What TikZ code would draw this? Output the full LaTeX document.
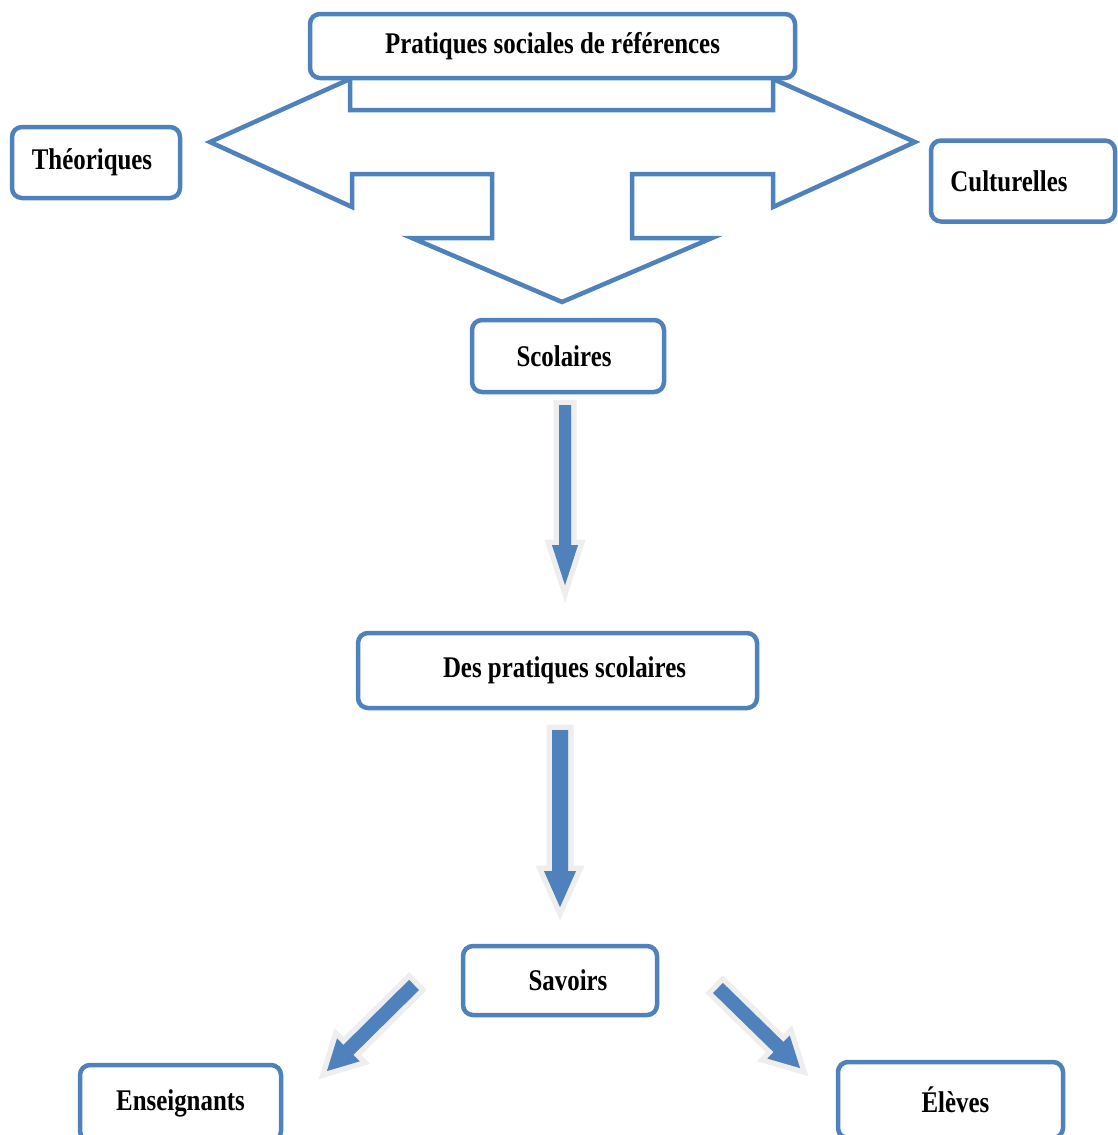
\documentclass[tikz,border=0pt]{standalone}
\usepackage{fontspec}
\setmainfont{Liberation Serif}[FakeStretch=0.83]
\usetikzlibrary{calc}
\definecolor{blueC}{HTML}{4F81BD}
\tikzset{
  box/.style={draw=blueC, line width=4.5pt, rounded corners=10pt, fill=white, inner sep=0pt, align=center,
    font=\fontsize{30}{32}\selectfont\bfseries},
  halo/.style={fill=gray!13, draw=gray!13, line width=11pt, line join=miter},
  shadowc/.style={fill=gray!55},
  bluefill/.style={fill=blueC},
}
\newcommand\blockarrow[5]{%
  \coordinate (bah) at ($(#2)!#5!(#1)$);
  \filldraw[halo] ($(#1)!#3!90:(#2)$) -- ($(bah)!#3!90:(#2)$) -- ($(bah)!#4!90:(#2)$) -- (#2) -- ($(bah)!#4!-90:(#2)$) -- ($(bah)!#3!-90:(#2)$) -- ($(#1)!#3!-90:(#2)$) -- cycle;
  \fill[shadowc, shift={(3,3)}] ($(#1)!#3!90:(#2)$) -- ($(bah)!#3!90:(#2)$) -- ($(bah)!#4!90:(#2)$) -- (#2) -- ($(bah)!#4!-90:(#2)$) -- ($(bah)!#3!-90:(#2)$) -- ($(#1)!#3!-90:(#2)$) -- cycle;
  \fill[bluefill] ($(#1)!#3!90:(#2)$) -- ($(bah)!#3!90:(#2)$) -- ($(bah)!#4!90:(#2)$) -- (#2) -- ($(bah)!#4!-90:(#2)$) -- ($(bah)!#3!-90:(#2)$) -- ($(#1)!#3!-90:(#2)$) -- cycle;
}
\begin{document}
\begin{tikzpicture}[x=1pt,y=-1pt]
\useasboundingbox (0,0) rectangle (1118,1135);
\clip (0,0) rectangle (1118,1135);
\fill[white] (0,0) rectangle (1118,1135);

% three-way block arrow
\draw[draw=blueC, line width=4.5pt, line join=miter, fill=white]
  (350,79) -- (210,142) -- (352,207) -- (352,174) -- (492,174) -- (492,238) -- (412,238)
  -- (562,302) -- (712,238) -- (632,238) -- (632,174) -- (773,174) -- (773,207)
  -- (915,142) -- (773,79) -- (773,110) -- (350,110) -- cycle;

\node[box, minimum width=485pt, minimum height=64pt] (prs) at (552.5,46) {Pratiques sociales de références};
\node[box, minimum width=168pt, minimum height=71pt] (theo) at (96,162.5) {Théoriques\kern8pt};
\node[box, minimum width=184pt, minimum height=81pt] (cult) at (1023,181) {Culturelles\kern28pt};
\node[box, minimum width=192pt, minimum height=72pt] (scol) at (568,356) {Scolaires\kern8pt};
\node[box, minimum width=399pt, minimum height=75pt] (dps) at (557.5,670.5) {\kern14pt Des pratiques scolaires};
\node[box, minimum width=194pt, minimum height=69pt] (sav) at (560,980.5) {\kern16pt Savoirs};
\node[box, minimum width=201pt, minimum height=76pt] (ens) at (180.5,1103) {Enseignants};
\node[box, minimum width=225pt, minimum height=76pt] (elv) at (950.5,1100) {\kern10pt Élèves};

% block arrows
\coordinate (a1s) at (565,405);
\coordinate (a1e) at (565,585);
\coordinate (a2s) at (560,730);
\coordinate (a2e) at (560,907);
\coordinate (a3s) at (414,985);
\coordinate (a3e) at (327,1071);
\coordinate (a4s) at (718,988);
\coordinate (a4e) at (800,1068);
\blockarrow{a1s}{a1e}{6pt}{13pt}{40pt}
\blockarrow{a2s}{a2e}{8pt}{16pt}{36pt}
\blockarrow{a3s}{a3e}{7pt}{16pt}{30pt}
\blockarrow{a4s}{a4e}{7pt}{16pt}{30pt}
\end{tikzpicture}
\end{document}
